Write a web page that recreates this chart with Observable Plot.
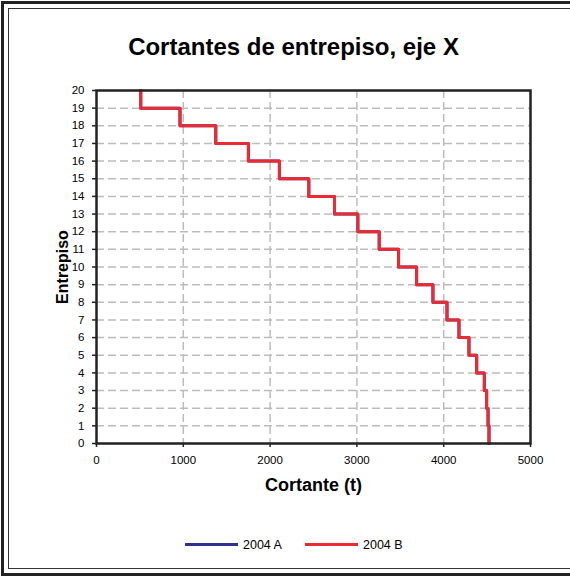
<!DOCTYPE html>
<html><head><meta charset="utf-8">
<script src="https://cdn.jsdelivr.net/npm/d3@7"></script>
<script src="https://cdn.jsdelivr.net/npm/@observablehq/plot@0.6"></script>
<style>
body{margin:0;background:#fff;}
#wrap{position:relative;width:570px;height:577px;overflow:hidden;font-family:"Liberation Sans",Arial,sans-serif;background:#fff;}
#outer{position:absolute;left:1px;top:1px;width:580px;height:569px;border:3px solid #222;}
#inner{position:absolute;left:8px;top:8px;width:580px;height:559px;border:1px solid #333;}
#plot{position:absolute;left:0;top:0;}
#legend{position:absolute;top:537px;left:0;width:570px;height:16px;font-size:12.5px;color:#000;}
.item{position:absolute;top:0;height:16px;line-height:16px;white-space:nowrap;}
.sw{display:inline-block;width:53px;height:3px;vertical-align:middle;margin-right:5px;position:relative;top:-1px;}
</style></head><body>
<div id="wrap"><div id="outer"></div><div id="inner"></div><div id="plot"></div><div id="legend"></div></div>
<script>
const stories = d3.range(1, 21);
const shearA = [4522, 4511, 4495, 4468, 4380, 4291, 4176, 4038, 3876, 3688, 3480, 3257, 3011, 2742, 2446, 2107, 1750, 1374, 962, 510];
const shearB = [4522, 4511, 4495, 4468, 4380, 4291, 4176, 4038, 3876, 3688, 3480, 3257, 3011, 2742, 2446, 2107, 1750, 1374, 962, 510];
const seriesNames = ["2004 A", "2004 B"];
const seriesColors = ["#2e3192", "#ed2a2f"];
const xTicks = [0, 1000, 2000, 3000, 4000, 5000];
const yTicks = d3.range(0, 21);
const title = "Cortantes de entrepiso, eje X";
const xLabel = "Cortante (t)";
const yLabel = "Entrepiso";

function steps(shear, name) {
  const pts = [];
  stories.forEach((s, i) => {
    pts.push({x: shear[i], y: s - 1, name});
    pts.push({x: shear[i], y: s, name});
  });
  return pts;
}
const dataA = steps(shearA, seriesNames[0]);
const dataB = steps(shearB, seriesNames[1]);

const grid = {stroke: "#bcbcbc", strokeOpacity: 1, strokeWidth: 1.5, strokeDasharray: "8,4"};

const chart = Plot.plot({
  width: 570, height: 577,
  marginLeft: 96, marginRight: 40, marginTop: 90, marginBottom: 134,
  style: {fontFamily: "'Liberation Sans', Arial, sans-serif", fontSize: "11.5px", color: "#000", background: "transparent"},
  x: {domain: [0, 5000]},
  y: {domain: [0, 20]},
  marks: [
    Plot.gridX(xTicks.slice(1, -1), grid),
    Plot.gridY(yTicks.slice(1, -1), grid),
    Plot.line(dataA, {x: "x", y: "y", stroke: seriesColors[0], strokeWidth: 3}),
    Plot.line(dataB, {x: "x", y: "y", stroke: seriesColors[1], strokeWidth: 3}),
    Plot.frame({stroke: "#222", strokeWidth: 2.5}),
    Plot.axisX(xTicks, {tickSize: 4, tickPadding: 8, label: null, stroke: "#222", strokeWidth: 1.5, fontSize: 11.5, tickFormat: d3.format("d")}),
    Plot.axisY(yTicks, {tickSize: 4, tickPadding: 8, label: null, stroke: "#222", strokeWidth: 1.5, fontSize: 11.5, tickFormat: d3.format("d")}),
    Plot.text([title], {frameAnchor: "top", dy: -53, dx: -20, fontSize: 24, fontWeight: "bold", fill: "#000"}),
    Plot.text([xLabel], {frameAnchor: "bottom", dy: 47, fontSize: 18, fontWeight: "bold", fill: "#000"}),
    Plot.text([yLabel], {frameAnchor: "left", textAnchor: "middle", dx: -34, rotate: -90, fontSize: 16, fontWeight: "bold", fill: "#000"})
  ]
});
document.getElementById("plot").appendChild(chart);

const legend = document.getElementById("legend");
const legendLeft = [185, 305];
seriesNames.forEach((n, i) => {
  const d = document.createElement("div");
  d.className = "item";
  d.style.left = legendLeft[i] + "px";
  d.innerHTML = `<span class="sw" style="background:${seriesColors[i]}"></span>${n}`;
  legend.appendChild(d);
});
</script>
</body></html>
